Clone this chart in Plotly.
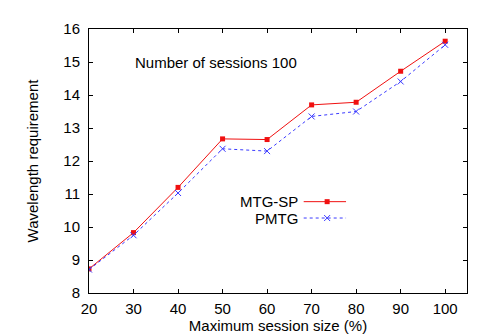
import plotly.graph_objects as go

# Data
session_size = [20, 30, 40, 50, 60, 70, 80, 90, 100]
mtg_sp = [8.73, 9.83, 11.20, 12.67, 12.65, 13.70, 13.78, 14.72, 15.63]
pmtg = [8.71, 9.75, 11.03, 12.37, 12.30, 13.35, 13.50, 14.41, 15.52]
series_names = ["MTG-SP", "PMTG"]
y_ticks = [8, 9, 10, 11, 12, 13, 14, 15, 16]

RED = "#f01010"
BLUE = "#3a3aff"
FONT = "Liberation Sans, Arial, Helvetica, sans-serif"
FS = 15

fig = go.Figure()
fig.add_trace(go.Scatter(
    x=session_size, y=mtg_sp, name=series_names[0], mode="lines+markers",
    line=dict(color=RED, width=1),
    marker=dict(symbol="square", size=5, color=RED),
    showlegend=False,
))
fig.add_trace(go.Scatter(
    x=session_size, y=pmtg, name=series_names[1], mode="lines+markers",
    line=dict(color=BLUE, width=1, dash="dot"),
    marker=dict(symbol="x-thin", size=6, line=dict(color=BLUE, width=1), color=BLUE),
    showlegend=False,
))

# Custom gnuplot-style legend (text left, sample right) on an overlay axis
leg_y = [0.346, 0.284]
leg_styles = [
    dict(line=dict(color=RED, width=1), marker=dict(symbol="square", size=5, color=RED)),
    dict(line=dict(color=BLUE, width=1, dash="dot"),
         marker=dict(symbol="x-thin", size=6, line=dict(color=BLUE, width=1), color=BLUE)),
]
for name, yy, st in zip(series_names, leg_y, leg_styles):
    fig.add_trace(go.Scatter(x=[0.568, 0.680], y=[yy, yy], mode="lines",
                             line=st["line"], xaxis="x2", yaxis="y2",
                             showlegend=False, hoverinfo="skip"))
    fig.add_trace(go.Scatter(x=[0.630], y=[yy], mode="markers",
                             marker=st["marker"], xaxis="x2", yaxis="y2",
                             showlegend=False, hoverinfo="skip"))
    fig.add_annotation(xref="paper", yref="paper", x=0.556, y=yy, text=name,
                       showarrow=False, xanchor="right", yanchor="middle",
                       height=15, borderpad=0,
                       font=dict(family=FONT, size=FS, color="black"))

fig.add_annotation(xref="paper", yref="paper", x=0.117, y=0.875,
                   text="Number of sessions 100", showarrow=False,
                   xanchor="left", yanchor="middle",
                   font=dict(family=FONT, size=FS, color="black"))

axis_common = dict(showline=True, linecolor="black", linewidth=1, mirror="ticks",
                   ticks="inside", ticklen=4, tickcolor="black", showgrid=False,
                   zeroline=False, tickfont=dict(family=FONT, size=FS, color="black"))

fig.update_layout(
    width=481, height=336,
    margin=dict(l=81, r=22, t=17, b=47),
    paper_bgcolor="white", plot_bgcolor="white",
    font=dict(family=FONT, size=FS, color="black"),
    xaxis=dict(range=[20, 104.9], tickvals=session_size, ticklabelstandoff=2,
               title=dict(text="Maximum session size (%)", standoff=4,
                          font=dict(family=FONT, size=FS)),
               **axis_common),
    yaxis=dict(range=[8, 16], tickvals=y_ticks, ticklabelstandoff=5,
               title=dict(text="Wavelength requirement", standoff=21,
                          font=dict(family=FONT, size=FS)),
               **axis_common),
    xaxis2=dict(range=[0, 1], overlaying="x", visible=False, fixedrange=True),
    yaxis2=dict(range=[0, 1], overlaying="y", visible=False, fixedrange=True),
)

fig.write_html("out.html")
